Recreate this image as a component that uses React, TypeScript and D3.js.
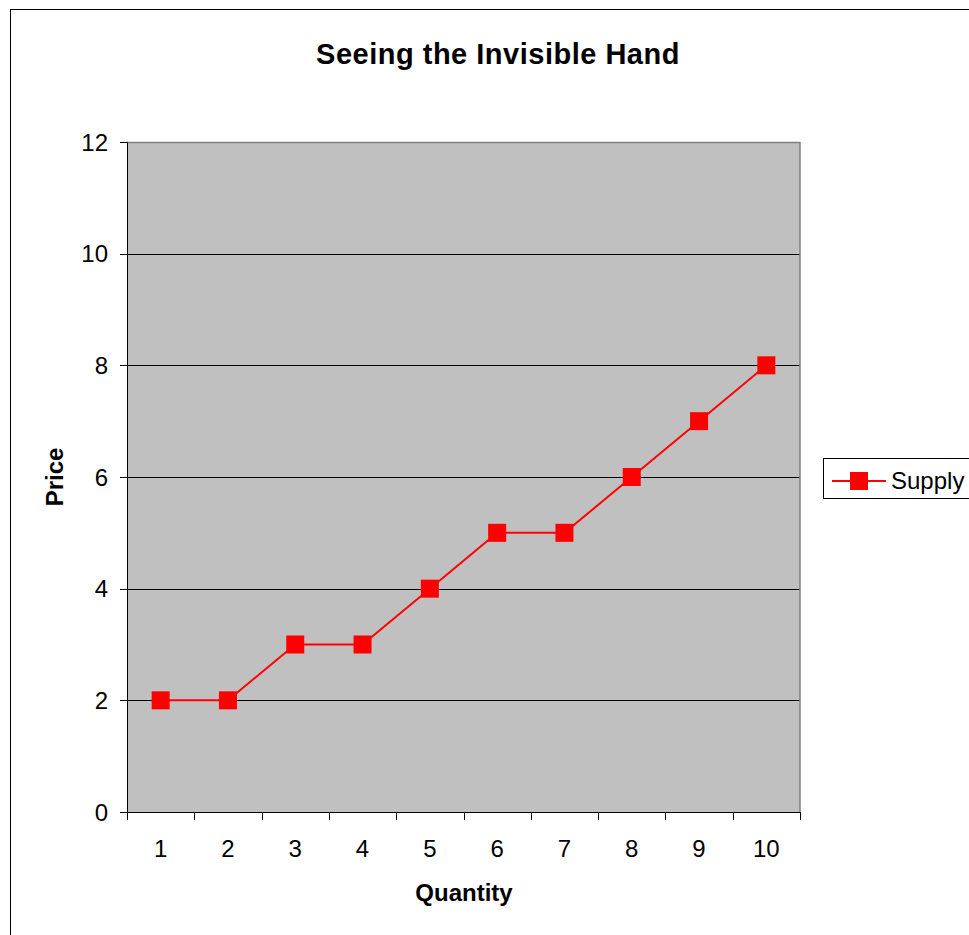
import React from "react";
import * as d3 from "d3";

const quantities = ["1", "2", "3", "4", "5", "6", "7", "8", "9", "10"];
const supply = [2, 2, 3, 3, 4, 5, 5, 6, 7, 8];
const yTicks = [0, 2, 4, 6, 8, 10, 12];
const title = "Seeing the Invisible Hand";
const xTitle = "Quantity";
const yTitle = "Price";
const seriesName = "Supply";

const W = 969;
const H = 935;
const plot = { left: 127, top: 142, right: 800, bottom: 812 };
const FONT = "'Liberation Sans', Arial, sans-serif";

export default function App() {
  const x = d3
    .scaleBand<string>()
    .domain(quantities)
    .range([plot.left, plot.right])
    .paddingInner(0)
    .paddingOuter(0);
  const y = d3.scaleLinear().domain([0, 12]).range([plot.bottom, plot.top]);

  const line = d3
    .line<number>()
    .x((_, i) => (x(quantities[i]) as number) + x.bandwidth() / 2)
    .y((d) => y(d));

  const boundaries = d3.range(quantities.length + 1).map(
    (i) => plot.left + i * x.bandwidth()
  );

  const ms = 18;

  return (
    <svg
      width={W}
      height={H}
      style={{ position: "absolute", left: 0, top: 0, background: "#fff" }}
      fontFamily={FONT}
    >
      <rect x={0} y={0} width={W} height={H} fill="#fff" />
      {/* outer frame */}
      <rect x={10.5} y={9.5} width={W + 20} height={H + 20} fill="none" stroke="#000" strokeWidth={1} />

      {/* title */}
      <text
        x={498}
        y={64}
        textAnchor="middle"
        fontSize={29}
        fontWeight="bold"
        letterSpacing={0.5}
        fill="#000"
      >
        {title}
      </text>

      {/* plot background */}
      <rect
        x={plot.left}
        y={plot.top}
        width={plot.right - plot.left}
        height={plot.bottom - plot.top}
        fill="#C0C0C0"
      />
      {/* gridlines */}
      {yTicks
        .filter((t) => t !== 0 && t !== 12)
        .map((t) => (
          <line
            key={"g" + t}
            x1={plot.left}
            x2={plot.right}
            y1={Math.round(y(t)) + 0.5}
            y2={Math.round(y(t)) + 0.5}
            stroke="#000"
            strokeWidth={1}
          />
        ))}
      {/* plot border (gray top/right) */}
      <line x1={plot.left} x2={plot.right} y1={plot.top + 0.5} y2={plot.top + 0.5} stroke="#808080" strokeWidth={1.5} />
      <line x1={plot.right} x2={plot.right} y1={plot.top} y2={plot.bottom} stroke="#808080" strokeWidth={1.5} />

      {/* y axis */}
      <line x1={plot.left + 0.5} x2={plot.left + 0.5} y1={plot.top} y2={plot.bottom} stroke="#000" strokeWidth={1} />
      {yTicks.map((t) => (
        <g key={"y" + t}>
          <line
            x1={plot.left - 7}
            x2={plot.left}
            y1={Math.round(y(t)) + 0.5}
            y2={Math.round(y(t)) + 0.5}
            stroke="#000"
            strokeWidth={1}
          />
          <text
            x={108}
            y={y(t) + 8.5}
            textAnchor="end"
            fontSize={24}
            fill="#000"
          >
            {t}
          </text>
        </g>
      ))}

      {/* x axis */}
      <line x1={plot.left} x2={plot.right} y1={plot.bottom + 0.5} y2={plot.bottom + 0.5} stroke="#000" strokeWidth={1} />
      {boundaries.map((b, i) => (
        <line
          key={"xt" + i}
          x1={Math.round(b) + 0.5}
          x2={Math.round(b) + 0.5}
          y1={plot.bottom}
          y2={plot.bottom + 8}
          stroke="#000"
          strokeWidth={1}
        />
      ))}
      {quantities.map((q) => (
        <text
          key={"xl" + q}
          x={(x(q) as number) + x.bandwidth() / 2}
          y={857}
          textAnchor="middle"
          fontSize={24}
          fill="#000"
        >
          {q}
        </text>
      ))}

      {/* axis titles */}
      <text x={464} y={901} textAnchor="middle" fontSize={24} fontWeight="bold" fill="#000">
        {xTitle}
      </text>
      <text
        transform={`translate(63,${(plot.top + plot.bottom) / 2}) rotate(-90)`}
        textAnchor="middle"
        fontSize={24}
        fontWeight="bold"
        fill="#000"
      >
        {yTitle}
      </text>

      {/* series */}
      <path d={line(supply) || ""} fill="none" stroke="#FF0000" strokeWidth={2} />
      {supply.map((v, i) => (
        <rect
          key={"m" + i}
          x={(x(quantities[i]) as number) + x.bandwidth() / 2 - ms / 2}
          y={y(v) - ms / 2}
          width={ms}
          height={ms}
          fill="#FF0000"
        />
      ))}

      {/* legend */}
      <rect x={823.5} y={458.5} width={200} height={40} fill="#fff" stroke="#000" strokeWidth={1} />
      <line x1={832} x2={886} y1={481} y2={481} stroke="#FF0000" strokeWidth={2} />
      <rect x={850} y={472} width={ms} height={ms} fill="#FF0000" />
      <text x={891} y={489} fontSize={24} fill="#000">
        {seriesName}
      </text>
    </svg>
  );
}
